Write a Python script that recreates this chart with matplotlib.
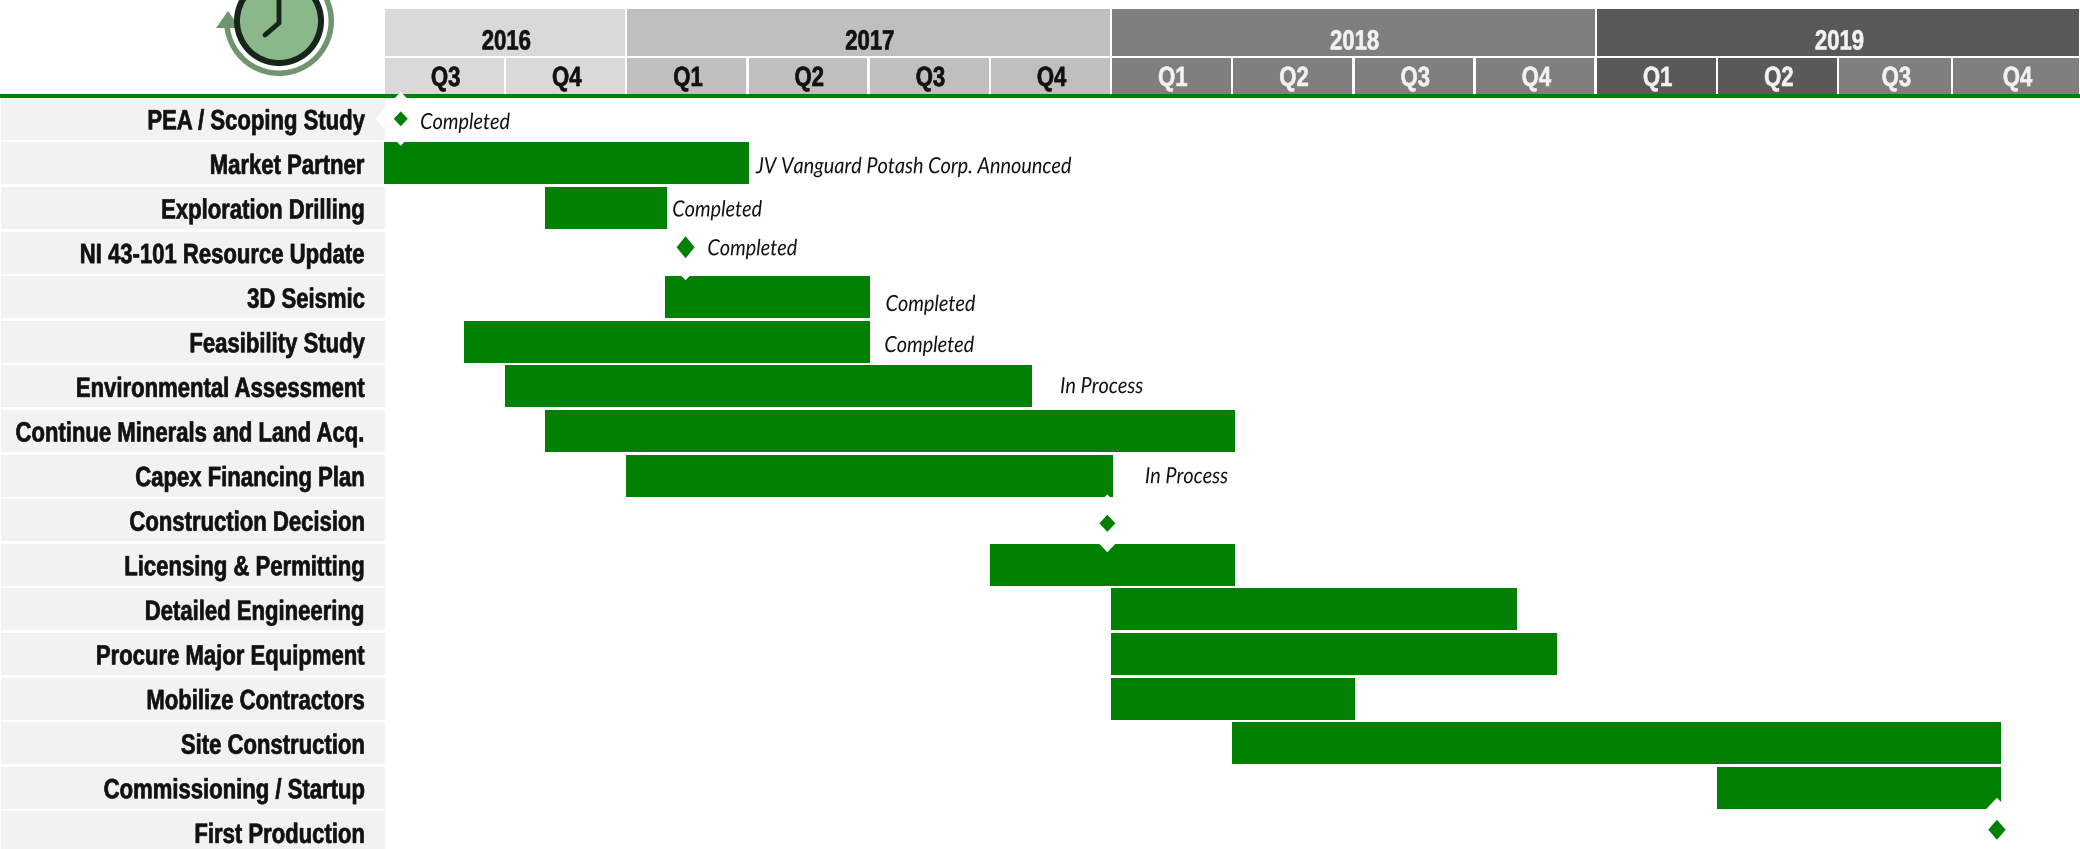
import matplotlib
matplotlib.use("Agg")
import matplotlib.pyplot as plt
from matplotlib.patches import Rectangle, Polygon, Circle, Wedge
from matplotlib.patheffects import AbstractPathEffect
from matplotlib.transforms import Affine2D

# ---- data (x in quarters from start of Q3 2016, y = row index)
tasks = ["PEA / Scoping Study", "Market Partner", "Exploration Drilling",
         "NI 43-101 Resource Update", "3D Seismic", "Feasibility Study",
         "Environmental Assessment", "Continue Minerals and Land Acq.",
         "Capex Financing Plan", "Construction Decision", "Licensing & Permitting",
         "Detailed Engineering", "Procure Major Equipment", "Mobilize Contractors",
         "Site Construction", "Commissioning / Startup", "First Production"]
bar_rows = [1, 2, 4, 5, 6, 7, 8, 10, 11, 12, 13, 14, 15]
bar_start = [-0.01, 1.32, 2.31, 0.65, 0.99, 1.32, 1.99, 4.99, 5.99, 5.99, 5.99, 6.99, 10.99]
bar_end = [3.0, 2.33, 4.0, 4.0, 5.34, 7.01, 6.01, 7.01, 9.34, 9.67, 8.0, 13.33, 13.33]
ms_y = [0.0, 2.88, 9.07, 15.94]
ms_x = [0.13, 2.48, 5.96, 13.3]
ms_halfw = [7, 9, 8, 8.7]
ms_halfh = [7.5, 11, 8.5, 10]
ms_halo = [27, 33, 29, 32]
note_text = ["Completed", "JV Vanguard Potash Corp. Announced", "Completed", "Completed",
             "Completed", "Completed", "In Process", "In Process"]
note_x = [0.29, 3.06, 2.37, 2.66, 4.13, 4.12, 5.57, 6.27]
note_y = [0.04, 1.03, 2.0, 2.87, 4.12, 5.04, 5.96, 7.98]
years = ["2016", "2017", "2018", "2019"]
year_edges = [0, 2, 6, 10, 14]
year_colors = ["#d9d9d9", "#bfbfbf", "#7f7f7f", "#595959"]
year_text = ["#111111", "#111111", "#f2f2f2", "#f2f2f2"]
quarters = ["Q3", "Q4", "Q1", "Q2", "Q3", "Q4", "Q1", "Q2", "Q3", "Q4", "Q1", "Q2", "Q3", "Q4"]
quarter_edges = [0, 1, 2, 3, 4, 5, 6, 7, 8, 9, 10, 11, 12, 12.94, 14]
quarter_colors = ["#d9d9d9"] * 2 + ["#bfbfbf"] * 4 + ["#7f7f7f"] * 4 + ["#595959"] * 2 + ["#7f7f7f"] * 2
quarter_text = ["#111111"] * 6 + ["#f2f2f2"] * 8

GREEN = "#008000"
W, H = 2080, 849
X0, QW = 385.0, 121.2
Y0, RH = 118.8, 44.6
px_x = lambda p: (p - X0) / QW
px_y = lambda p: (p - Y0) / RH


class TallText(AbstractPathEffect):
    """Stretch glyphs vertically about their baseline, with an optional thin stroke."""
    def __init__(self, sy, stroke=0.0):
        super().__init__()
        self.sy = sy
        self.stroke = stroke

    def draw_path(self, renderer, gc, tpath, affine, rgbFace=None):
        by = affine.to_values()[5]
        stretched = affine + Affine2D().translate(0, -by).scale(1, self.sy).translate(0, by)
        gc.set_linewidth(self.stroke)
        renderer.draw_path(gc, tpath, stretched, rgbFace)


fig = plt.figure(figsize=(W / 100, H / 100), dpi=100)
ax = fig.add_axes([0, 0, 1, 1])
ax.set_xlim(px_x(0), px_x(W))
ax.set_ylim(px_y(H), px_y(0))
ax.axis("off")

label_kw = dict(family=["Liberation Sans", "DejaVu Sans"], fontweight="bold", fontsize=15.9,
                va="baseline", path_effects=[TallText(1.26, 0.45)])
note_kw = dict(family=["Lato", "Open Sans", "DejaVu Sans"], style="italic", fontsize=14.3,
               va="baseline", ha="left", color="#111111", zorder=5, path_effects=[TallText(1.12)])

# header
for i, y in enumerate(years):
    a, b = year_edges[i], year_edges[i + 1]
    ax.add_patch(Rectangle((a, px_y(9)), b - a - 2.5 / QW, px_y(56) - px_y(9), fc=year_colors[i], ec="none"))
    ax.text((a + b) / 2, px_y(49.5), y, ha="center", color=year_text[i], **label_kw)
for i, q in enumerate(quarters):
    a, b = quarter_edges[i], quarter_edges[i + 1]
    ax.add_patch(Rectangle((a, px_y(58)), b - a - 2.5 / QW, px_y(94) - px_y(58), fc=quarter_colors[i], ec="none"))
    ax.text((a + b) / 2, px_y(86), q, ha="center", color=quarter_text[i], **label_kw)
ax.add_patch(Rectangle((px_x(0), px_y(94)), px_x(W) - px_x(0), px_y(98) - px_y(94), fc=GREEN, ec="none"))

# row labels
for r, t in enumerate(tasks):
    ax.add_patch(Rectangle((px_x(1), r - 0.47), px_x(X0) - px_x(1), 0.94, fc="#f2f2f2", ec="none"))
    ax.text(px_x(365), r + 0.235, t, ha="right", color="#111111", **label_kw)

# bars
for r, a, b in zip(bar_rows, bar_start, bar_end):
    ax.add_patch(Rectangle((a, r - 0.47), b - a, 0.94, fc=GREEN, ec="none", zorder=2))

# milestones
for y, x, hw, hh, halo in zip(ms_y, ms_x, ms_halfw, ms_halfh, ms_halo):
    hx, hy = halo * 0.95 / QW, halo / RH
    ax.add_patch(Polygon([(x - hx, y), (x, y - hy), (x + hx, y), (x, y + hy)], fc="white", ec="none", zorder=3))
    dx, dy = hw / QW, hh / RH
    ax.add_patch(Polygon([(x - dx, y), (x, y - dy), (x + dx, y), (x, y + dy)], fc=GREEN, ec="none", zorder=4))

# notes
for t, x, y in zip(note_text, note_x, note_y):
    ax.text(x, y + 0.19, t, **note_kw)

# clock icon on a pixel overlay
ic = fig.add_axes([0, 0, 1, 1], facecolor="none")
ic.set_xlim(0, W)
ic.set_ylim(H, 0)
ic.axis("off")
cx, cy = 279, 21
ic.add_patch(Wedge((cx, cy), 55, -40, 183, width=5.5, fc="#6f9470", ec="none"))
ic.add_patch(Polygon([(216, 28), (228, 11), (240, 28)], fc="#6f9470", ec="none"))
ic.add_patch(Circle((cx, cy), 45, fc="#17241a", ec="none"))
ic.add_patch(Circle((cx, cy), 39, fc="#8ab88a", ec="none"))
ic.plot([cx, cx, 265], [-5, 23, 35], color="#17241a", lw=3.5, solid_capstyle="round", solid_joinstyle="miter")

fig.savefig("out.png", dpi=100)
